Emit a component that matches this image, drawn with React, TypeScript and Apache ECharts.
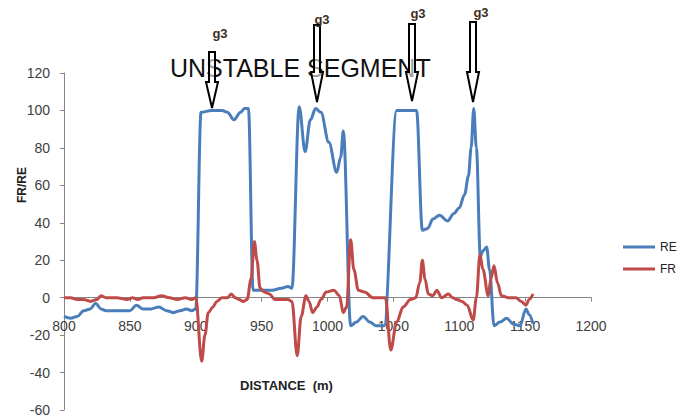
import React, { useEffect, useRef } from "react";
import * as echarts from "echarts";

const xTicks = [800, 850, 900, 950, 1000, 1050, 1100, 1150, 1200];
const yTicks = [-60, -40, -20, 0, 20, 40, 60, 80, 100, 120];

const reDistance = [800, 805, 810, 815, 820, 824, 828, 832, 838, 845, 850, 855, 860, 866, 872, 878, 883, 888, 893, 897, 900,
  904, 912, 920, 924, 929, 934, 937, 940, 943.5, 950, 958, 965, 970, 973,
  978.5, 983, 987, 991, 995, 1001, 1007, 1010, 1012, 1017.6, 1022, 1027, 1032, 1037, 1043,
  1052.5, 1060, 1067.6, 1072, 1076, 1080, 1085, 1091, 1096, 1100, 1104, 1107, 1109, 1111, 1113, 1116, 1118, 1120.8, 1123,
  1126.4, 1131, 1136, 1141, 1146, 1150.7, 1153, 1156];
const reValues = [-10, -11, -10, -7, -6, -3, -6, -7, -7, -7, -7, -4, -6, -6, -5, -7, -8, -7, -6, -7, -6,
  99, 100, 100, 99, 95, 99, 101, 101, 4, 4, 4, 5, 6, 5,
  102, 78, 95, 101, 99, 83, 67, 75, 89, -15, -13, -10, -13, -15, -15,
  100, 100, 100, 36, 37, 42, 44, 41, 45, 48, 55, 65, 80, 101, 80, 22, 25, 27, 15,
  -15, -13, -11, -14, -15, -6, -9, -14];

const frDistance = [800, 805, 810, 815, 820, 825, 828, 832, 840, 848, 852, 856, 860, 868, 874, 880, 886, 892, 897, 900,
  904.5, 907, 909.5, 913, 916, 920, 924, 927, 930, 933, 936, 939, 942, 944.5, 946.5, 948.8, 952, 956, 960, 965, 970, 973,
  977, 980, 983.7, 986, 988.7, 992, 995, 999, 1005, 1009, 1012, 1014.5, 1017.6, 1020, 1023.4, 1028, 1034.5, 1040, 1044,
  1048, 1052.5, 1057.4, 1063, 1067, 1070, 1072, 1074, 1076.5, 1080, 1083, 1086.6, 1091.7, 1095, 1098, 1102, 1106, 1110.6,
  1113, 1115.7, 1118, 1122, 1124, 1126.4, 1129, 1132, 1137, 1143, 1147, 1150.7, 1153, 1156];
const frValues = [0, 0, -1, -1, -2, -1, 1, 0, 0, -1, 0, -1, 0, 0, 1, 0, -1, 0, -1, 0,
  -34, -20, -8, -5, -2, 0, 0, 2, 0, -1, -2, -1, 10, 30, 20, 5, 3, 2, -1, -1, -1, -2,
  -31, -10, 1, -2, -8, -5, -1, 3, 4, 1, -8, -5, 31, 15, 4, 3, 0, 0, 0,
  -28, -13, -5, -1, 0, 8, 20, 10, 2, 1, 4, 0, 2, 0, -1, -2, -4, -12,
  0, 23, 15, 1, 10, 17, 8, 1, 0, 0, -2, -4, -1, 2];

const titleText = "UNSTABLE SEGMENT";
const markerLabel = "g3";

const FONT = "'Liberation Sans', Arial, sans-serif";

const GRID_TOP = 73;
const GRID_BOTTOM_PX = 410;

function arrow(cx: number, yt: number, yh: number, yp: number) {
  return {
    type: "polygon",
    z: 110,
    shape: {
      points: [
        [cx - 3, yt], [cx + 3, yt], [cx + 3, yh], [cx + 6, yh], [cx, yp], [cx - 6, yh], [cx - 3, yh],
      ],
    },
    style: { fill: "rgba(255,255,255,0.6)", stroke: "#000", lineWidth: 2 },
  };
}

function g3(x: number, y: number) {
  return {
    type: "text",
    z: 111,
    x,
    y,
    style: {
      text: markerLabel,
      fill: "#3c2f1e",
      font: `bold 13px ${FONT}`,
      align: "center",
      verticalAlign: "middle",
    },
  };
}

export default function App() {
  const ref = useRef<HTMLDivElement>(null);
  useEffect(() => {
    if (!ref.current) return;
    const chart = echarts.init(ref.current, undefined, { renderer: "svg" });
    const re = reDistance.map((d, i) => [d, reValues[i]]);
    const fr = frDistance.map((d, i) => [d, frValues[i]]);
    const yMin = yTicks[0];
    const yMax = yTicks[yTicks.length - 1];
    const zeroPx = GRID_TOP + ((yMax - 0) / (yMax - yMin)) * (GRID_BOTTOM_PX - GRID_TOP);
    const xOffset = -(GRID_BOTTOM_PX - zeroPx);
    chart.setOption({
      animation: false,
      backgroundColor: "#fff",
      grid: {
        left: 64,
        right: 89,
        top: GRID_TOP,
        bottom: 420 - GRID_BOTTOM_PX,
        containLabel: false,
        outerBoundsMode: "none",
      },
      xAxis: {
        type: "value",
        position: "bottom",
        offset: xOffset,
        min: xTicks[0],
        max: xTicks[xTicks.length - 1],
        interval: 50,
        axisLine: { onZero: false, lineStyle: { color: "#868686", width: 1 } },
        axisTick: { show: true, length: 4, lineStyle: { color: "#868686" } },
        axisLabel: {
          margin: 21,
          fontSize: 14,
          color: "#404040",
          fontFamily: FONT,
          formatter: (v: number) => String(v),
        },
        splitLine: { show: false },
      },
      yAxis: {
        type: "value",
        min: yMin,
        max: yMax,
        interval: 20,
        axisLine: { show: true, onZero: false, lineStyle: { color: "#868686", width: 1 } },
        axisTick: { show: true, length: 4, lineStyle: { color: "#868686" } },
        axisLabel: { margin: 14, fontSize: 14, color: "#404040", fontFamily: FONT },
        splitLine: { show: false },
      },
      legend: {
        orient: "vertical",
        left: 623,
        top: 241,
        padding: 0,
        itemWidth: 32,
        itemHeight: 3,
        itemGap: 10,
        icon: "rect",
        data: ["RE", "FR"],
        textStyle: { fontSize: 12, color: "#222", fontFamily: FONT },
      },
      series: [
        {
          name: "RE",
          type: "line",
          data: re,
          smooth: 0.35,
          smoothMonotone: "x",
          symbol: "none",
          lineStyle: { color: "#4a7ebb", width: 3 },
          itemStyle: { color: "#4a7ebb" },
          z: 2,
        },
        {
          name: "FR",
          type: "line",
          data: fr,
          smooth: 0.35,
          smoothMonotone: "x",
          symbol: "none",
          lineStyle: { color: "#be4b48", width: 3 },
          itemStyle: { color: "#be4b48" },
          z: 3,
        },
      ],
      graphic: [
        {
          type: "text",
          z: 100,
          x: 170,
          y: 68,
          style: {
            text: titleText,
            fill: "#111",
            font: `25px ${FONT}`,
            verticalAlign: "middle",
          },
        },
        arrow(212, 52, 82, 108),
        arrow(317, 25, 72, 102),
        arrow(412, 24, 72, 101),
        arrow(473, 22, 72, 102),
        g3(220, 33),
        g3(322, 19),
        g3(418, 13),
        g3(481, 12),
        {
          type: "text",
          x: 22,
          y: 185,
          rotation: Math.PI / 2,
          style: {
            text: "FR/RE",
            fill: "#222",
            font: `bold 12px ${FONT}`,
            align: "center",
            verticalAlign: "middle",
          },
        },
        {
          type: "text",
          x: 240,
          y: 385,
          style: {
            text: "DISTANCE  (m)",
            fill: "#222",
            font: `bold 13px ${FONT}`,
            verticalAlign: "middle",
          },
        },
      ],
    });
    return () => chart.dispose();
  }, []);
  return <div ref={ref} style={{ position: "fixed", left: 0, top: 0, width: 680, height: 420 }} />;
}
